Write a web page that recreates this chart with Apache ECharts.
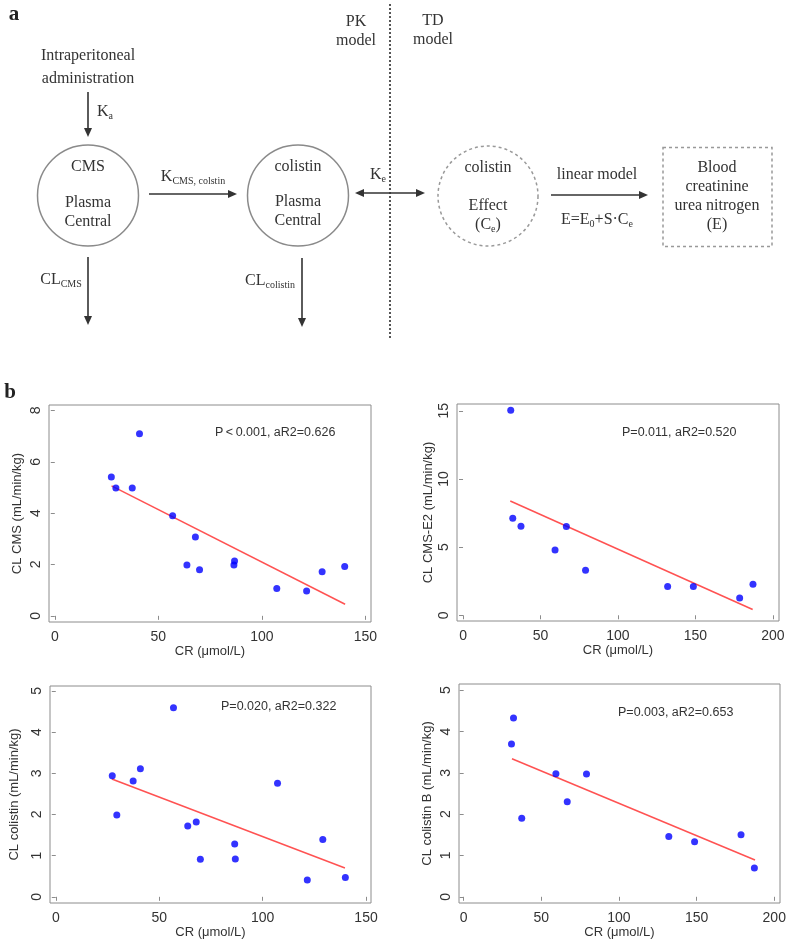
<!DOCTYPE html>
<html>
<head>
<meta charset="utf-8">
<title>PK/TD model and CL vs CR</title>
<style>
  body { margin: 0; background: #fff; }
</style>
<script src="https://cdn.jsdelivr.net/npm/echarts@6.0.0/dist/echarts.min.js"></script>
</head>
<body>
<div id="main" style="width:790px;height:945px;"></div>
<script type="text/javascript">
// --- data ---
// patients in plots 1 and 3 (CMS / colistin)
var cr1 = [27.3, 29.5, 37.4, 40.9, 56.9, 63.8, 67.9, 69.9, 86.5, 86.8, 107.2, 121.6, 129.1, 140.0];
var clCMS = [5.41, 4.98, 4.98, 7.09, 3.90, 1.98, 3.07, 1.79, 1.98, 2.14, 1.06, 0.97, 1.72, 1.92];
var clColistin = [2.94, 1.99, 2.81, 3.11, 4.59, 1.72, 1.82, 0.91, 1.28, 0.92, 2.76, 0.41, 1.39, 0.47];
// patients in plots 2 and 4 (CMS-E2 / colistin B)
var cr2 = [30.8, 32.1, 37.4, 59.4, 66.7, 79.1, 132.1, 148.7, 178.6, 187.2];
var clE2 = [15.05, 7.11, 6.54, 4.78, 6.52, 3.31, 2.11, 2.11, 1.27, 2.28];
var clB = [3.70, 4.33, 1.90, 2.98, 2.30, 2.97, 1.46, 1.33, 1.50, 0.70];
// fitted lines (end points)
var fitCMS = [[27.4, 5.06], [140.2, 0.45]];
var fitE2 = [[30.5, 8.38], [187.0, 0.42]];
var fitColistin = [[27.1, 2.86], [139.8, 0.70]];
var fitB = [[31.1, 3.34], [187.6, 0.89]];

var yNames = ['CL CMS (mL/min/kg)', 'CL CMS-E2 (mL/min/kg)', 'CL colistin (mL/min/kg)', 'CL colistin B (mL/min/kg)'];
var stats = ['P\u2009<\u20090.001, aR2=0.626', 'P=0.011, aR2=0.520', 'P=0.020, aR2=0.322', 'P=0.003, aR2=0.653'];
var xTicks1 = [0, 50, 100, 150];
var xTicks2 = [0, 50, 100, 150, 200];
var yTicks = [[0, 2, 4, 6, 8], [0, 5, 10, 15], [0, 1, 2, 3, 4, 5], [0, 1, 2, 3, 4, 5]];

function zip(a, b) {
    var out = [];
    for (var i = 0; i < a.length; i++) out.push([a[i], b[i]]);
    return out;
}

var SANS = 'Liberation Sans';
var SERIF = 'Liberation Serif';
var INK = '#333';

// ---------- panel a: the model diagram ----------
function txt(x, y, s, size, extra) {
    var st = {
        text: s, x: x, y: y, fill: INK,
        font: (size || 16) + 'px ' + SERIF,
        align: 'center', verticalAlign: 'middle',
        textAlign: 'center', textVerticalAlign: 'middle'
    };
    if (extra) for (var k in extra) st[k] = extra[k];
    return { type: 'text', z: 10, style: st };
}
var subRich = {
    sub: { fontSize: 10, fontFamily: SERIF, fill: INK, verticalAlign: 'bottom', padding: [9, 0, 0, 0] }
};
function head(x, y, dx, dy) {
    // triangle with tip at (x,y) pointing along (dx,dy)
    var L = 9, W = 4;
    var bx = x - dx * L, by = y - dy * L;
    return {
        type: 'polygon', z: 10,
        shape: { points: [[x, y], [bx - dy * W, by + dx * W], [bx + dy * W, by - dx * W]] },
        style: { fill: INK }
    };
}
function arrow(x1, y1, x2, y2, both) {
    var len = Math.sqrt((x2 - x1) * (x2 - x1) + (y2 - y1) * (y2 - y1));
    var dx = (x2 - x1) / len, dy = (y2 - y1) / len;
    var els = [{
        type: 'line', z: 10,
        shape: { x1: x1 + (both ? dx * 6 : 0), y1: y1 + (both ? dy * 6 : 0), x2: x2 - dx * 6, y2: y2 - dy * 6 },
        style: { stroke: INK, lineWidth: 1.6 }
    }, head(x2, y2, dx, dy)];
    if (both) els.push(head(x1, y1, -dx, -dy));
    return els;
}

var graphics = [];
graphics.push(txt(14, 15, 'a', 21, { font: 'bold 21px ' + SERIF, fill: '#222' }));
graphics.push(txt(10, 393, 'b', 21, { font: 'bold 21px ' + SERIF, fill: '#222' }));

graphics.push(txt(88, 56, 'Intraperitoneal'));
graphics.push(txt(88, 79, 'administration'));
graphics = graphics.concat(arrow(88, 92, 88, 137));
graphics.push(txt(105, 112, 'K{sub|a}', 16, { rich: subRich }));

// CMS compartment
graphics.push({ type: 'circle', shape: { cx: 88, cy: 195.5, r: 50.5 }, style: { fill: 'none', stroke: '#8a8a8a', lineWidth: 1.5 } });
graphics.push(txt(88, 167, 'CMS'));
graphics.push(txt(88, 203, 'Plasma'));
graphics.push(txt(88, 222, 'Central'));
graphics = graphics.concat(arrow(149, 194, 237, 194));
graphics.push(txt(193, 177, 'K{sub|CMS, colstin}', 16, { rich: subRich }));
graphics = graphics.concat(arrow(88, 257, 88, 325));
graphics.push(txt(61, 280, 'CL{sub|CMS}', 16, { rich: subRich }));

// colistin compartment
graphics.push({ type: 'circle', shape: { cx: 298, cy: 195.5, r: 50.5 }, style: { fill: 'none', stroke: '#8a8a8a', lineWidth: 1.5 } });
graphics.push(txt(298, 167, 'colistin'));
graphics.push(txt(298, 202, 'Plasma'));
graphics.push(txt(298, 221, 'Central'));
graphics = graphics.concat(arrow(302, 258, 302, 327));
graphics.push(txt(270, 281, 'CL{sub|colistin}', 16, { rich: subRich }));

// PK / TD divider
graphics.push({ type: 'line', z: 5, shape: { x1: 390, y1: 4, x2: 390, y2: 340 }, style: { stroke: '#555', lineWidth: 2, lineDash: [2, 2] } });
graphics.push(txt(356, 22, 'PK'));
graphics.push(txt(356, 41, 'model'));
graphics.push(txt(433, 21, 'TD'));
graphics.push(txt(433, 40, 'model'));
graphics = graphics.concat(arrow(355, 193, 425, 193, true));
graphics.push(txt(378, 175, 'K{sub|e}', 16, { rich: subRich }));

// effect compartment
graphics.push({ type: 'circle', shape: { cx: 488, cy: 196, r: 50 }, style: { fill: 'none', stroke: '#999', lineWidth: 1.5, lineDash: [3, 3] } });
graphics.push(txt(488, 168, 'colistin'));
graphics.push(txt(488, 206, 'Effect'));
graphics.push(txt(488, 225, '(C{sub|e})', 16, { rich: subRich }));
graphics = graphics.concat(arrow(551, 195, 648, 195));
graphics.push(txt(597, 175, 'linear model'));
graphics.push(txt(597, 220, 'E=E{sub|0}+S\u00b7C{sub|e}', 16, { rich: subRich }));

// response box
graphics.push({ type: 'rect', shape: { x: 663, y: 147.5, width: 109, height: 99 }, style: { fill: 'none', stroke: '#999', lineWidth: 1.5, lineDash: [3, 3] } });
graphics.push(txt(717, 168, 'Blood'));
graphics.push(txt(717, 187, 'creatinine'));
graphics.push(txt(717, 206, 'urea nitrogen'));
graphics.push(txt(717, 225, '(E)'));

// statistics annotations in the scatter plots
var statPos = [[215, 433], [622, 433], [221, 707], [618, 713]];
for (var s = 0; s < 4; s++) {
    graphics.push({
        type: 'text', z: 10,
        style: {
            text: stats[s], x: statPos[s][0], y: statPos[s][1], fill: INK,
            font: '12.5px ' + SANS, align: 'left', verticalAlign: 'middle',
            textAlign: 'left', textVerticalAlign: 'middle'
        }
    });
}

// ---------- panel b: scatter plots ----------
var grids = [
    { left: 49, top: 405, width: 322, height: 217 },
    { left: 457, top: 404, width: 322, height: 217 },
    { left: 50, top: 686, width: 321, height: 217 },
    { left: 459, top: 684, width: 321, height: 219 }
];
var xRange = [[-2.8, 152.7], [-3.9, 204], [-2.8, 152.4], [-3.0, 203.7]];
var yRange = [[-0.24, 8.21], [-0.42, 15.5], [-0.15, 5.12], [-0.15, 5.15]];
var yNameGap = [25, 22, 29, 25];

var xAxes = [], yAxes = [];
for (var g = 0; g < 4; g++) {
    var xt = (g % 2 === 0) ? xTicks1 : xTicks2;
    grids[g].show = true;
    grids[g].borderColor = '#8c8c8c';
    grids[g].borderWidth = 1;
    xAxes.push({
        type: 'value', gridIndex: g, min: xRange[g][0], max: xRange[g][1],
        axisLine: { show: false },
        axisTick: { show: true, length: 4, customValues: xt, lineStyle: { color: '#8c8c8c' } },
        axisLabel: { customValues: xt, fontSize: 14, color: INK, fontFamily: SANS, margin: 8 },
        splitLine: { show: false },
        name: 'CR (\u03bcmol/L)', nameLocation: 'middle', nameGap: 22,
        nameTextStyle: { fontSize: 13, color: INK, fontFamily: SANS }
    });
    yAxes.push({
        type: 'value', gridIndex: g, min: yRange[g][0], max: yRange[g][1],
        axisLine: { show: false },
        axisTick: { show: true, length: 4, customValues: yTicks[g], lineStyle: { color: '#8c8c8c' } },
        axisLabel: { customValues: yTicks[g], rotate: 90, fontSize: 14, color: INK, fontFamily: SANS, margin: 6 },
        splitLine: { show: false },
        name: yNames[g], nameLocation: 'middle', nameRotate: 90, nameGap: yNameGap[g],
        nameTextStyle: { fontSize: 13, color: INK, fontFamily: SANS }
    });
}

var pointSets = [zip(cr1, clCMS), zip(cr2, clE2), zip(cr1, clColistin), zip(cr2, clB)];
var fits = [fitCMS, fitE2, fitColistin, fitB];
var series = [];
for (var p = 0; p < 4; p++) {
    series.push({
        type: 'line', xAxisIndex: p, yAxisIndex: p, data: fits[p],
        symbol: 'none', lineStyle: { color: '#ff5252', width: 1.5 }, z: 2, silent: true
    });
    series.push({
        type: 'scatter', xAxisIndex: p, yAxisIndex: p, data: pointSets[p],
        symbolSize: 7, itemStyle: { color: '#0000ff' }, z: 3
    });
}

var myChart = echarts.init(document.getElementById('main'));
myChart.setOption({
    animation: false,
    backgroundColor: '#fff',
    textStyle: { fontFamily: SANS },
    graphic: graphics,
    grid: grids,
    xAxis: xAxes,
    yAxis: yAxes,
    series: series
});
</script>
</body>
</html>
